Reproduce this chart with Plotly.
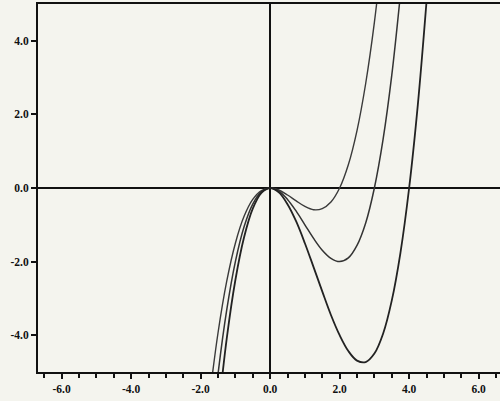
import plotly.graph_objects as go

# Values (three cubic-like curves through the origin)
x_a = [-1.75, -1.5, -1.25, -1.0, -0.75, -0.5, -0.25, 0.0, 0.25, 0.5, 0.75, 1.0,
       1.25, 1.5, 1.75, 2.0, 2.25, 2.5, 2.75, 3.0, 3.25]
y_a = [-5.74, -3.94, -2.54, -1.5, -0.77, -0.31, -0.07, 0.0, -0.055, -0.19, -0.35, -0.5,
       -0.59, -0.56, -0.38, 0.0, 0.63, 1.56, 2.84, 4.5, 6.6]

x_b = [-1.75, -1.5, -1.25, -1.0, -0.75, -0.5, -0.25, 0.0, 0.25, 0.5, 0.75, 1.0,
       1.25, 1.5, 1.75, 2.0, 2.25, 2.5, 2.75, 3.0, 3.25, 3.5, 3.75]
y_b = [-7.27, -5.06, -3.32, -2.0, -1.055, -0.44, -0.10, 0.0, -0.086, -0.31, -0.63, -1.0,
       -1.37, -1.69, -1.91, -2.0, -1.90, -1.56, -0.95, 0.0, 1.32, 3.06, 5.27]

x_c = [-1.5, -1.25, -1.0, -0.75, -0.5, -0.25, 0.0, 0.25, 0.5, 0.75, 1.0, 1.25, 1.5,
       1.75, 2.0, 2.25, 2.5, 2.75, 3.0, 3.25, 3.5, 3.75, 4.0, 4.25, 4.5]
y_c = [-6.19, -4.10, -2.5, -1.34, -0.56, -0.13, 0.0, -0.12, -0.44, -0.91, -1.5, -2.15, -2.81,
       -3.45, -4.0, -4.43, -4.69, -4.73, -4.5, -3.96, -3.06, -1.76, 0.0, 2.26, 5.06]

x_tick_vals = [-6, -4, -2, 0, 2, 4, 6]
x_tick_text = ["-6.0", "-4.0", "-2.0", "0.0", "2.0", "4.0", "6.0"]
y_tick_vals = [-4, -2, 0, 2, 4]
y_tick_text = ["-4.0", "-2.0", "0.0", "2.0", "4.0"]

fig = go.Figure()
for xs, ys, col, w in [(x_a, y_a, "#3a3a3a", 1.4), (x_b, y_b, "#333333", 1.5), (x_c, y_c, "#222222", 1.8)]:
    fig.add_trace(go.Scatter(x=xs, y=ys, mode="lines",
                             line=dict(color=col, width=w, shape="spline", smoothing=1.0),
                             showlegend=False, hoverinfo="skip"))

bg = "#f4f4ee"
tf = dict(family="Liberation Serif", size=11.5, color="#111111", weight="bold")
fig.update_layout(
    width=500, height=401,
    margin=dict(l=38, r=0, t=4, b=29),
    paper_bgcolor=bg, plot_bgcolor=bg,
    font=dict(family="Liberation Serif", size=11, color="#111111"),
    showlegend=False,
)
fig.update_xaxes(
    range=[-6.68, 6.615], showgrid=False,
    tickvals=x_tick_vals, ticktext=x_tick_text,
    ticks="outside", ticklen=5, tickwidth=1.5, tickcolor="#111111",
    minor=dict(dtick=0.5, tick0=0, ticks="outside", ticklen=4, tickwidth=1.5, tickcolor="#111111"),
    showline=True, linecolor="#111111", linewidth=2, mirror=True,
    zeroline=True, zerolinecolor="#111111", zerolinewidth=1.5,
    tickfont=tf,
)
fig.update_yaxes(
    range=[-5, 5], showgrid=False,
    tickvals=y_tick_vals, ticktext=y_tick_text,
    ticks="outside", ticklen=5, tickwidth=1.5, tickcolor="#111111",
    showline=True, linecolor="#111111", linewidth=2,
    zeroline=True, zerolinecolor="#111111", zerolinewidth=1.5,
    tickfont=tf,
)

fig.write_html("out.html", config={"displayModeBar": False},
               post_script="document.body.style.margin='0px';document.body.style.background='%s';" % bg)
